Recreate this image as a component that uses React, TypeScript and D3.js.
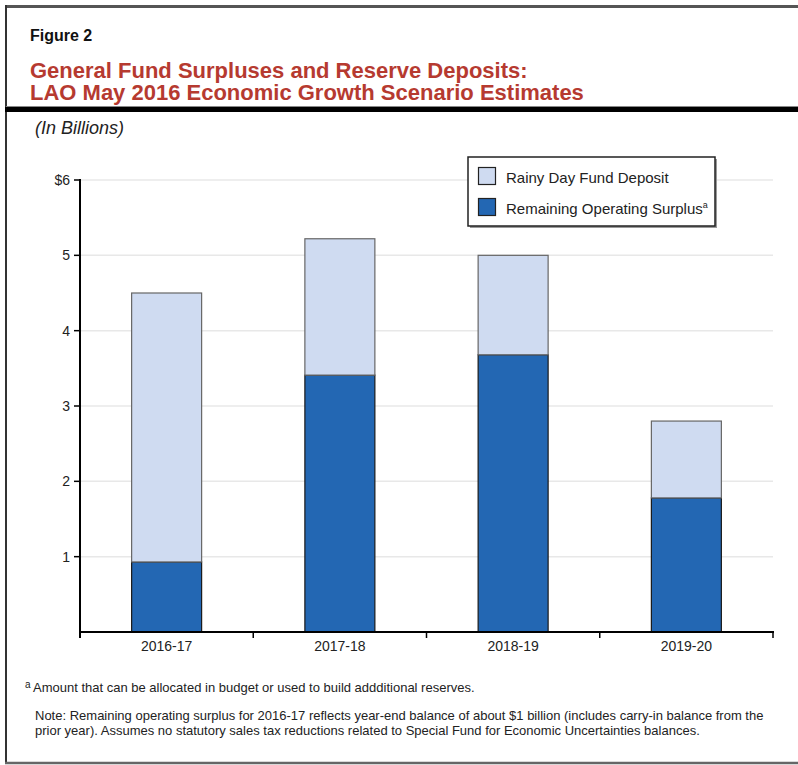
import React from "react";
import * as d3 from "d3";

const categories = ["2016-17", "2017-18", "2018-19", "2019-20"];
const surplus = [0.93, 3.41, 3.68, 1.78];
const rainyDay = [3.57, 1.81, 1.32, 1.02];
const yTicks = [1, 2, 3, 4, 5, 6];
const seriesNames = ["Rainy Day Fund Deposit", "Remaining Operating Surplus"];

const W = 798;
const H = 765;
const FONT = "'Liberation Sans', Arial, Helvetica, sans-serif";
const LIGHT = "#cfdbf1";
const DARK = "#2367b3";

export default function App() {
  const x0 = 80, x1 = 773, y0 = 632, yTop = 180;
  const x = d3.scaleBand<string>().domain(categories).range([x0, x1]).paddingInner(0.596).paddingOuter(0.298);
  const y = d3.scaleLinear().domain([0, 6]).range([y0, yTop]);
  const rows = categories.map((c, i) => ({ cat: c, surplus: surplus[i], rainy: rainyDay[i] }));
  const stack = d3.stack<any>().keys(["surplus", "rainy"])(rows);
  const boundaries = d3.range(categories.length + 1).map((i) => x0 + (i * (x1 - x0)) / categories.length);

  return (
    <svg width={W} height={H} style={{ position: "absolute", left: 0, top: 0, background: "#fff" }} fontFamily={FONT}>
      {/* frame */}
      <line x1={6} y1={6.5} x2={W} y2={6.5} stroke="#555" strokeWidth={3} />
      <line x1={6} y1={5} x2={6} y2={764} stroke="#333" strokeWidth={2} />
      <line x1={6} y1={106.5} x2={W} y2={106.5} stroke="#888" strokeWidth={1} />
      <rect x={5} y={107} width={W} height={5} fill="#000" />
      <line x1={5} y1={763} x2={W} y2={763} stroke="#666" strokeWidth={2.5} />

      {/* titles */}
      <text x={30} y={41} fontSize={16} fontWeight="bold" fill="#111">Figure 2</text>
      <text x={30} y={78} fontSize={22} fontWeight="bold" fill="#b63a30">General Fund Surpluses and Reserve Deposits:</text>
      <text x={30} y={100} fontSize={22} fontWeight="bold" fill="#b63a30">LAO May 2016 Economic Growth Scenario Estimates</text>
      <text x={35} y={134} fontSize={18} fontStyle="italic" fill="#222">(In Billions)</text>

      {/* gridlines */}
      {yTicks.map((t) => (
        <line key={"g" + t} x1={x0} x2={x1} y1={y(t)} y2={y(t)} stroke="#e8e8e8" strokeWidth={1.5} />
      ))}

      {/* bars */}
      {stack.map((layer, li) =>
        layer.map((d, i) => (
          <rect
            key={li + "-" + i}
            x={x(categories[i])}
            y={y(d[1])}
            width={x.bandwidth()}
            height={y(d[0]) - y(d[1])}
            fill={li === 0 ? DARK : LIGHT}
            stroke={li === 0 ? "#1a1a1a" : "#666"}
            strokeWidth={1.2}
          />
        ))
      )}

      {/* y axis */}
      <line x1={x0} x2={x0} y1={yTop - 1} y2={y0 + 6} stroke="#000" strokeWidth={2} />
      {yTicks.map((t) => (
        <g key={"t" + t}>
          <line x1={x0 - 6} x2={x0} y1={y(t)} y2={y(t)} stroke="#000" strokeWidth={1.5} />
          <text x={70} y={y(t)} dy="0.35em" textAnchor="end" fontSize={14} fill="#222">
            {t === 6 ? "$6" : String(t)}
          </text>
        </g>
      ))}

      {/* x axis */}
      <line x1={x0 - 1} x2={x1 + 1} y1={y0} y2={y0} stroke="#000" strokeWidth={2} />
      {boundaries.map((b, i) => (
        <line key={"b" + i} x1={b} x2={b} y1={y0} y2={y0 + 6} stroke="#000" strokeWidth={1.5} />
      ))}
      {categories.map((c) => (
        <text key={c} x={(x(c) as number) + x.bandwidth() / 2} y={651} textAnchor="middle" fontSize={14} fill="#222">
          {c}
        </text>
      ))}

      {/* legend */}
      <rect x={470} y={159} width={247} height={69} fill="#999" />
      <rect x={468} y={157} width={247} height={69} fill="#fff" stroke="#222" strokeWidth={1.5} />
      <rect x={478.5} y={167.5} width={17} height={17} fill={LIGHT} stroke="#222" strokeWidth={1.2} />
      <rect x={478.5} y={198.5} width={17} height={17} fill={DARK} stroke="#222" strokeWidth={1.2} />
      <text x={506} y={183} fontSize={15} fill="#222">{seriesNames[0]}</text>
      <text x={506} y={214} fontSize={15} fill="#222">
        {seriesNames[1]}
        <tspan fontSize={9} dy={-6}>a</tspan>
      </text>

      {/* footnotes */}
      <text x={25} y={688} fontSize={10} fill="#222">a</text>
      <text x={33} y={692} fontSize={13} fill="#222">Amount that can be allocated in budget or used to build addditional reserves.</text>
      <text x={35} y={720} fontSize={13} fill="#222">Note: Remaining operating surplus for 2016-17 reflects year-end balance of about $1 billion (includes carry-in balance from the</text>
      <text x={35} y={735} fontSize={13} fill="#222">prior year). Assumes no statutory sales tax reductions related to Special Fund for Economic Uncertainties balances.</text>
    </svg>
  );
}
